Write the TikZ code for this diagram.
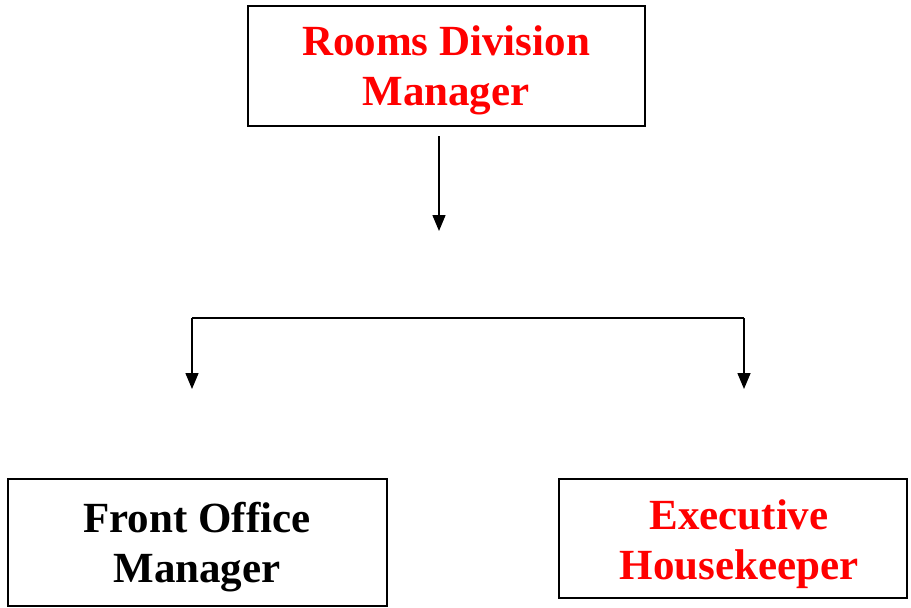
\documentclass[tikz,border=0pt]{standalone}
\usepackage{fontspec}
\setmainfont{Liberation Serif}
\usetikzlibrary{arrows.meta}
\begin{document}
\begin{tikzpicture}[x=1pt,y=-1pt,
  boxstyle/.style={draw=black,line width=1.6pt,fill=white},
  labelstyle/.style={font=\fontsize{43}{50}\selectfont\bfseries,align=center},
  conn/.style={line width=1.5pt,-{Triangle[width=13pt,length=16pt]}},
  plain/.style={line width=1.5pt}]
\useasboundingbox (0,0) rectangle (911,608);
% boxes
\draw[boxstyle] (248,6) rectangle (645,126);
\draw[boxstyle] (8,479) rectangle (387,606);
\draw[boxstyle] (559,479) rectangle (907,598);
\node[labelstyle,text=red] (rdm) at (446,70.5) {Rooms Division\\Manager};
\node[labelstyle,text=black] (fom) at (197,547) {Front Office\\Manager};
\node[labelstyle,text=red] (eh) at (739,544) {Executive\\Housekeeper};
% connectors
\coordinate (t1) at (439,136);
\coordinate (t2) at (439,231);
\coordinate (bl) at (192,318);
\coordinate (br) at (744,318);
\coordinate (al) at (192,389);
\coordinate (ar) at (744,389);
\draw[conn] (t1) -- (t2);
\draw[plain] (bl) -- (br);
\draw[conn] (bl) -- (al);
\draw[conn] (br) -- (ar);
\end{tikzpicture}
\end{document}
